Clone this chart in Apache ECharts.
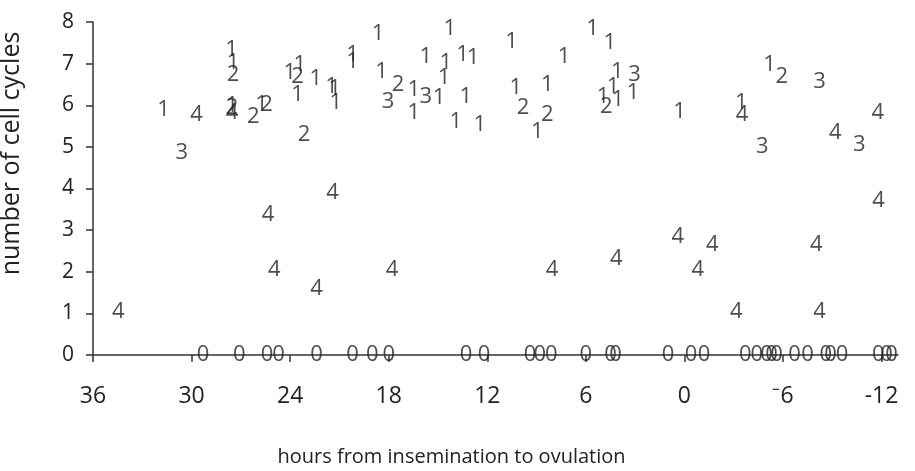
<!DOCTYPE html>
<html>
<head>
<meta charset="utf-8">
<script src="https://cdn.jsdelivr.net/npm/echarts@6/dist/echarts.min.js"></script>
<style>html,body{margin:0;padding:0;background:#fff;}#c{width:915px;height:471px;}</style>
</head>
<body>
<div id="c"></div>
<script>
// Tick labels of the hours axis
const xTicks = [36, 30, 24, 18, 12, 6, 0, -6, -12];
const yTicks = [0, 1, 2, 3, 4, 5, 6, 7, 8];

// Points shown with the label "0"
const hours0 = [29.3, 27.1, 25.4, 24.7, 22.4, 20.2, 19.0, 18.0, 13.3, 12.2, 9.4, 8.8, 8.1, 6.0, 4.5, 4.2, 1.0, -0.4, -1.2, -3.7, -4.4, -5.0, -5.3, -5.6, -6.7, -7.5, -8.6, -8.9, -9.6, -11.8, -12.3, -12.6];
const cycles0 = [0, 0, 0, 0, 0, 0, 0, 0, 0, 0, 0, 0, 0, 0, 0, 0, 0, 0, 0, 0, 0, 0, 0, 0, 0, 0, 0, 0, 0, 0, 0, 0];

// Points shown with the label "1"
const hours1 = [31.7, 27.56, 27.48, 27.54, 25.74, 24.02, 23.41, 23.55, 22.44, 21.48, 21.28, 21.22, 20.2, 20.2, 18.65, 18.44, 16.47, 16.47, 14.94, 15.74, 14.53, 14.63, 14.28, 13.51, 12.87, 13.31, 13.92, 12.46, 10.53, 10.27, 8.34, 8.95, 7.33, 5.6, 4.55, 4.08, 4.96, 4.35, 4.05, 3.13, 0.29, -3.46, -5.18];
const cycles1 = [5.89, 7.33, 7.02, 5.99, 6.01, 6.77, 6.97, 6.25, 6.63, 6.44, 6.39, 6.05, 7.21, 7.04, 7.73, 6.81, 6.37, 5.81, 6.17, 7.17, 7.01, 6.65, 7.85, 7.21, 7.13, 6.21, 5.61, 5.53, 7.53, 6.41, 6.49, 5.37, 7.17, 7.85, 7.49, 6.81, 6.21, 6.45, 6.13, 6.29, 5.85, 6.05, 6.97];

// Points shown with the label "2"
const hours2 = [27.48, 27.54, 26.25, 25.43, 23.55, 23.15, 17.43, 9.83, 8.34, 4.75, -5.93, -13.19];
const cycles2 = [6.73, 5.94, 5.73, 6.01, 6.69, 5.29, 6.49, 5.93, 5.77, 5.97, 6.69, 6.65];

// Points shown with the label "3"
const hours3 = [30.6, 18.04, 15.74, 3.03, -4.74, -8.22, -10.65, -13.45];
const cycles3 = [4.85, 6.09, 6.21, 6.73, 5.01, 6.57, 5.05, 5.69];

// Points shown with the label "4"
const hours4 = [29.69, 27.54, 21.42, 34.46, 25.34, 24.97, 22.39, 17.79, 8.06, 4.14, 0.4, -1.69, -0.82, -8.02, -3.15, -8.22, -3.51, -9.19, -11.77, -11.81];
const cycles4 = [5.77, 5.82, 3.89, 1.04, 3.37, 2.04, 1.6, 2.04, 2.04, 2.32, 2.84, 2.64, 2.04, 2.64, 1.04, 1.04, 5.77, 5.33, 5.81, 3.7];

const groups = [
  {name: '0', hours: hours0, cycles: cycles0},
  {name: '1', hours: hours1, cycles: cycles1},
  {name: '2', hours: hours2, cycles: cycles2},
  {name: '3', hours: hours3, cycles: cycles3},
  {name: '4', hours: hours4, cycles: cycles4}
];

const textColor = '#222222';
const lineColor = '#333333';
const font = 'Open Sans';

const chart = echarts.init(document.getElementById('c'), null, {renderer: 'canvas'});
chart.setOption({
  animation: false,
  backgroundColor: '#ffffff',
  grid: {left: 93, right: 17, top: 22, bottom: 116, containLabel: false, outerBoundsMode: 'none'},
  xAxis: {
    type: 'value',
    inverse: true,
    min: -13,
    max: 36,
    name: 'hours from insemination to ovulation',
    nameLocation: 'middle',
    nameGap: 92,
    nameTextStyle: {color: textColor, fontFamily: font, fontSize: 20, padding: [0, 88, 0, 0]},
    axisLine: {show: true, onZero: false, lineStyle: {color: lineColor, width: 1.5}},
    axisTick: {show: true, inside: false, length: 7, customValues: xTicks, lineStyle: {color: lineColor, width: 1.5}},
    axisLabel: {
      show: true, margin: 30, customValues: xTicks,
      color: textColor, fontFamily: font, fontSize: 23,
      formatter: function (v) { return v === -6 ? '\u207B6' : String(v); }
    },
    splitLine: {show: false}
  },
  yAxis: {
    type: 'value',
    min: 0,
    max: 8,
    interval: 1,
    name: 'number of cell cycles',
    nameLocation: 'middle',
    nameGap: 69,
    nameTextStyle: {color: textColor, fontFamily: font, fontSize: 25, padding: [0, 0, 0, 70]},
    axisLine: {show: true, onZero: false, lineStyle: {color: lineColor, width: 1.5}},
    axisTick: {show: true, inside: false, length: 7, lineStyle: {color: lineColor, width: 1.5}},
    axisLabel: {
      show: true, margin: 19, color: textColor, fontFamily: font, fontSize: 21,
      formatter: function (v) { return yTicks.indexOf(v) >= 0 ? String(v) : ''; }
    },
    splitLine: {show: false}
  },
  series: groups.map(function (g) {
    return {
      name: g.name,
      type: 'scatter',
      symbolSize: 0,
      silent: true,
      data: g.hours.map(function (h, i) { return [h, g.cycles[i]]; }),
      label: {
        show: true,
        position: 'inside',
        formatter: g.name,
        color: textColor,
        fontFamily: font,
        fontSize: 22
      },
      emphasis: {disabled: true}
    };
  })
});
</script>
</body>
</html>
